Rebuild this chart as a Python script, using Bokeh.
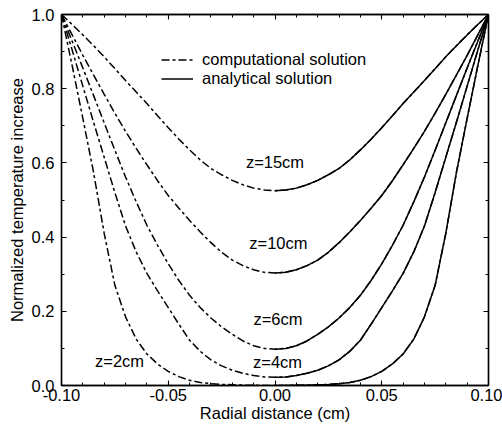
from bokeh.plotting import figure
from bokeh.models import (Range1d, LinearAxis, SingleIntervalTicker, NumeralTickFormatter,
                          Legend, LegendItem, ColumnDataSource, CustomJSTickFormatter)
from bokeh.core.properties import value
from bokeh.embed import file_html
from bokeh.resources import INLINE

# ---------------- data ----------------
# radial position on the right half (cm); left half is the mirror image
r_half = [0.000, 0.005, 0.010, 0.015, 0.020, 0.025, 0.030, 0.035, 0.040, 0.045, 0.050,
          0.055, 0.060, 0.065, 0.070, 0.075, 0.080, 0.085, 0.090, 0.095, 0.100]

temp_z15 = [0.525, 0.527, 0.532, 0.541, 0.553, 0.568, 0.585, 0.608, 0.635, 0.664, 0.695,
            0.727, 0.760, 0.791, 0.822, 0.854, 0.886, 0.916, 0.945, 0.973, 1.000]
temp_z10 = [0.303, 0.305, 0.312, 0.323, 0.338, 0.359, 0.385, 0.414, 0.445, 0.478, 0.512,
            0.552, 0.595, 0.639, 0.685, 0.734, 0.785, 0.837, 0.890, 0.945, 1.000]
temp_z6 = [0.098, 0.100, 0.107, 0.120, 0.138, 0.158, 0.182, 0.210, 0.243, 0.283, 0.328,
           0.378, 0.432, 0.495, 0.562, 0.634, 0.708, 0.782, 0.856, 0.928, 1.000]
temp_z4 = [0.022, 0.023, 0.027, 0.033, 0.041, 0.053, 0.069, 0.092, 0.122, 0.165, 0.210,
           0.255, 0.302, 0.360, 0.430, 0.520, 0.615, 0.710, 0.807, 0.904, 1.000]
temp_z2 = [0.000, 0.000, 0.0005, 0.001, 0.002, 0.003, 0.005, 0.008, 0.014, 0.024, 0.038,
           0.058, 0.085, 0.125, 0.185, 0.270, 0.410, 0.575, 0.720, 0.862, 1.000]

curve_labels = ["z=15cm", "z=10cm", "z=6cm", "z=4cm", "z=2cm"]
x_ticks_interval = 0.05
y_ticks_interval = 0.2

# label anchor positions (data units)
label_x = [0.0000, 0.0016, 0.0014, 0.0012, -0.0728]
label_y = [0.602, 0.385, 0.178, 0.063, 0.065]

FONT = "Liberation Sans"
FS = "16.5px"
DASHDOT = "8 3 3 3"

p = figure(width=502, height=425, output_backend="svg", toolbar_location=None,
           x_range=Range1d(-0.1, 0.1), y_range=Range1d(0.0, 1.0),
           min_border_left=61, min_border_right=14, min_border_top=14, min_border_bottom=40)
p.grid.visible = False
p.outline_line_color = "black"
p.outline_line_width = 1.3
p.background_fill_color = "white"
p.border_fill_color = "white"

series = [temp_z15, temp_z10, temp_z6, temp_z4, temp_z2]
comp_r = None
ana_r = None
for ys in series:
    x_full = [-r for r in reversed(r_half)] + r_half[1:]
    y_full = list(reversed(ys)) + ys[1:]
    rc = p.line(x_full, y_full, line_color="black", line_width=1.5, line_dash=DASHDOT)
    ra = p.line(r_half, ys, line_color="black", line_width=1.5)
    if comp_r is None:
        comp_r, ana_r = rc, ra

src = ColumnDataSource(dict(x=label_x, y=label_y, t=curve_labels))
p.text(x="x", y="y", text="t", source=src, text_align="center", text_baseline="middle",
       text_font=value(FONT), text_font_size=FS, text_color="black")

legend = Legend(items=[LegendItem(label="computational solution", renderers=[comp_r]),
                       LegendItem(label="analytical solution", renderers=[ana_r])],
                location=(100, 297), padding=0, spacing=0, margin=0,
                glyph_width=32, glyph_height=17, label_height=17, label_standoff=9,
                label_text_font=FONT, label_text_font_size=FS, label_text_color="black",
                border_line_alpha=0, background_fill_alpha=0)
p.add_layout(legend)

def style_axis(ax, interval, minors, fmt=None, hide=False):
    ax.ticker = SingleIntervalTicker(interval=interval, num_minor_ticks=minors)
    ax.major_tick_in = 5
    ax.major_tick_out = 0
    ax.minor_tick_in = 3
    ax.minor_tick_out = 0
    ax.axis_line_width = 1.4
    ax.axis_line_color = "black"
    ax.major_tick_line_color = "black"
    ax.minor_tick_line_color = "black"
    ax.major_tick_line_width = 1.1
    ax.minor_tick_line_width = 1.0
    ax.major_label_text_font = FONT
    ax.major_label_text_font_size = FS
    ax.major_label_text_color = "black"
    ax.axis_label_text_font = FONT
    ax.axis_label_text_font_size = FS
    ax.axis_label_text_color = "black"
    ax.axis_label_text_font_style = "normal"
    if fmt:
        ax.formatter = NumeralTickFormatter(format=fmt)
    if hide:
        ax.formatter = CustomJSTickFormatter(code="return ''")
        ax.major_label_text_font_size = "0px"
        ax.major_label_standoff = 0

xa = p.xaxis[0]
style_axis(xa, x_ticks_interval, 5, "0.00")
xa.axis_label = "Radial distance (cm)"
xa.major_label_standoff = 3
xa.axis_label_standoff = 0

ya = p.yaxis[0]
style_axis(ya, y_ticks_interval, 2, "0.0")
ya.axis_label = "Normalized temperature increase"
ya.major_label_standoff = 7
ya.axis_label_standoff = 3

top = LinearAxis()
style_axis(top, x_ticks_interval, 5, hide=True)
p.add_layout(top, "above")
right = LinearAxis()
style_axis(right, y_ticks_interval, 2, hide=True)
p.add_layout(right, "right")

open("out.html", "w").write(file_html(p, INLINE))
